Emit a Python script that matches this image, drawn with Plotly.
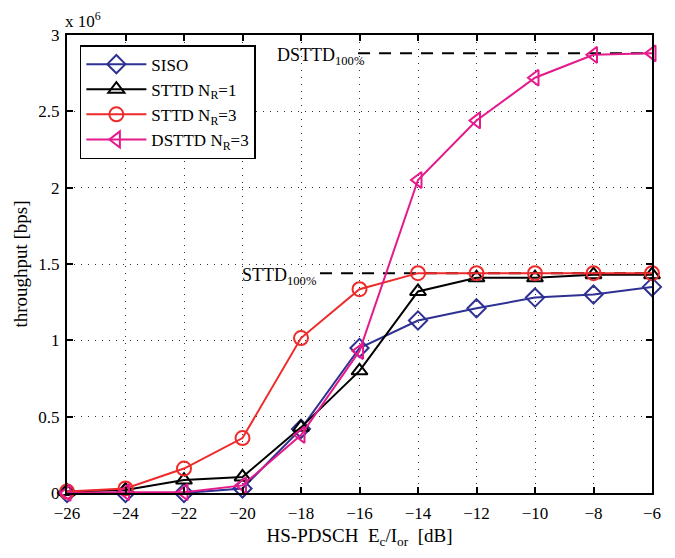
import plotly.graph_objects as go

x = [-26, -24, -22, -20, -18, -16, -14, -12, -10, -8, -6]
siso = [0.0, 0.0, 0.0, 0.03, 0.42, 0.95, 1.13, 1.21, 1.28, 1.30, 1.35]
sttd1 = [0.01, 0.02, 0.085, 0.105, 0.43, 0.80, 1.32, 1.41, 1.41, 1.43, 1.43]
sttd3 = [0.01, 0.03, 0.16, 0.36, 1.015, 1.335, 1.44, 1.44, 1.44, 1.44, 1.44]
dsttd = [0.0, 0.005, 0.005, 0.05, 0.38, 0.93, 2.05, 2.44, 2.72, 2.87, 2.88]

names = ["SISO", "STTD N<sub>R</sub>=1", "STTD N<sub>R</sub>=3", "DSTTD N<sub>R</sub>=3"]
colors = ["#2e3192", "#000000", "#ee2a2a", "#e6198c"]
symbols = ["diamond-open", "triangle-up-open", "circle-open", "triangle-left-open"]
series = [siso, sttd1, sttd3, dsttd]

ref_levels = [1.44, 2.88]
ref_starts = [-17.35, -16.05]
ref_labels = ["STTD<sub>100%</sub>", "DSTTD<sub>100%</sub>"]
ref_shift = [2, 12]

fig = go.Figure()
for i in range(2):
    fig.add_trace(go.Scatter(x=[ref_starts[i], -6], y=[ref_levels[i]] * 2, mode="lines",
                             line=dict(color="black", width=2, dash="12px,9px"),
                             showlegend=False, hoverinfo="skip"))
for s, n, c, m in zip(series, names, colors, symbols):
    fig.add_trace(go.Scatter(x=x, y=s, name=n, mode="lines+markers",
                             line=dict(color=c, width=2),
                             marker=dict(symbol=m, size=14, color=c, line=dict(color=c, width=2)),
                             cliponaxis=False))

for i in range(2):
    fig.add_annotation(x=ref_starts[i] - 0.1, y=ref_levels[i], xref="x", yref="y",
                       text=ref_labels[i], showarrow=False, xanchor="right", yanchor="middle",
                       font=dict(family="Liberation Serif", size=18, color="black"),
                       yshift=-3, xshift=ref_shift[i])

fig.add_annotation(x=0, y=1, xref="paper", yref="paper", text="x 10<sup>6</sup>", showarrow=False,
                   xanchor="left", yanchor="bottom", yshift=2, xshift=-4,
                   font=dict(family="Liberation Serif", size=17, color="black"))

axis_common = dict(showline=True, linecolor="black", linewidth=2, mirror="allticks",
                   ticks="inside", ticklen=6, tickcolor="black", tickwidth=1.5,
                   showgrid=True, gridcolor="#333333", griddash="1px,6px", gridwidth=1.2,
                   zeroline=False, tickfont=dict(family="Liberation Serif", size=17, color="black"))

fig.update_xaxes(range=[-26, -6], tickvals=list(range(-26, -5, 2)),
                 ticktext=["\u2212" + str(-v) for v in range(-26, -5, 2)],
                 ticklabelstandoff=4,
                 title=dict(text="HS-PDSCH  E<sub>c</sub>/I<sub>or</sub>  [dB]",
                            font=dict(family="Liberation Serif", size=19, color="black"), standoff=6),
                 **axis_common)
fig.update_yaxes(range=[0, 3], tickvals=[0, 0.5, 1, 1.5, 2, 2.5, 3],
                 ticktext=["0", "0.5", "1", "1.5", "2", "2.5", "3"],
                 ticklabelstandoff=2,
                 title=dict(text="throughput [bps]",
                            font=dict(family="Liberation Serif", size=19, color="black"), standoff=6),
                 **axis_common)

fig.update_layout(width=675, height=558, margin=dict(l=67, r=23, t=35, b=65),
                  plot_bgcolor="white", paper_bgcolor="white",
                  font=dict(family="Liberation Serif", color="black"),
                  legend=dict(x=0.022, y=0.978, xanchor="left", yanchor="top",
                              bgcolor="white", bordercolor="black", borderwidth=1.5,
                              font=dict(family="Liberation Serif", size=17, color="black"),
                              itemwidth=60, tracegroupgap=0))

fig.write_html("out.html")
